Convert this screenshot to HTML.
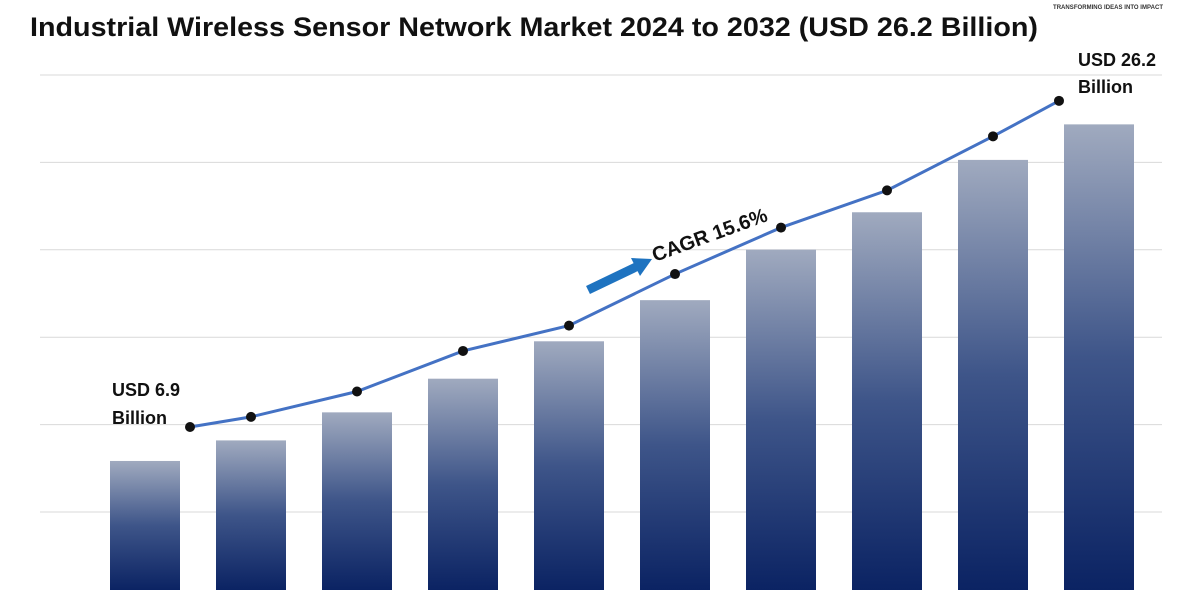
<!DOCTYPE html>
<html><head><meta charset="utf-8"><style>
body{margin:0;background:#fff;}
svg{display:block;font-family:"Liberation Sans",sans-serif;}
</style></head><body>
<svg width="1200" height="600" viewBox="0 0 1200 600">
<defs>
<linearGradient id="bg" x1="0" y1="0" x2="0" y2="1">
<stop offset="0" stop-color="#a0aabf"/><stop offset="0.5" stop-color="#3e5589"/><stop offset="1" stop-color="#0b2363"/>
</linearGradient>
</defs>
<text x="30" y="36" font-size="27" font-weight="bold" fill="#111" textLength="1008" lengthAdjust="spacingAndGlyphs">Industrial Wireless Sensor Network Market 2024 to 2032 (USD 26.2 Billion)</text>
<text x="1040" y="-2" font-size="14" font-weight="bold" fill="#1aa3e0">INFINITE</text>
<text x="1053" y="9" font-size="6" font-weight="bold" fill="#333" textLength="110">TRANSFORMING IDEAS INTO IMPACT</text>
<g id="grid"></g>
<g id="bars"></g>
<g id="line"></g>
<text x="112" y="396" font-size="18" font-weight="bold" fill="#111">USD 6.9</text>
<text x="112" y="424" font-size="18" font-weight="bold" fill="#111">Billion</text>
<text x="1078" y="66" font-size="18" font-weight="bold" fill="#111">USD 26.2</text>
<text x="1078" y="93" font-size="18" font-weight="bold" fill="#111">Billion</text>
<g>
<line x1="588" y1="290" x2="638" y2="266" stroke="#1e73c0" stroke-width="9"/>
<polygon points="652,259 631,258 640,276" fill="#1e73c0"/>
</g>
<text x="655" y="262" font-size="20" font-weight="bold" fill="#111" transform="rotate(-20 655 262)">CAGR 15.6%</text>
</svg>
<script>
const categories=['2023','2024','2025','2026','2027','2028','2029','2030','2031','2032'];
const barValues=[6.9,8.0,9.5,11.3,13.3,15.5,18.2,20.2,23.0,24.9];
const lineValues=[6.9,7.5,9.0,11.4,12.9,15.95,18.7,20.9,24.1,26.2];
const gridTicks=[0,1,2,3,4,5];
const NS='http://www.w3.org/2000/svg';
const base=590, barScale=18.7;
const yBar=v=>base-v*barScale;
const xBand=i=>110+i*106;
const bw=70;
const yLine=v=>427-(v-6.9)*16.9;
const xLine=i=>i===0?xBand(0)+80:(i===categories.length-1?xBand(i)-5:xBand(i)+bw/2);
function mk(t,a,p){const e=document.createElementNS(NS,t);for(const k in a)e.setAttribute(k,a[k]);p.appendChild(e);return e;}
const g=document.getElementById('grid');
gridTicks.forEach(t=>{const y=75+t*87.4;
const l=mk('line',{x1:40,x2:1162,y1:y,y2:y,stroke:'#d9d9d9','stroke-width':1},g);

});
const b=document.getElementById('bars');
barValues.forEach((v,i)=>{const r=mk('rect',{x:xBand(i),y:yBar(v),width:bw,height:base-yBar(v),fill:'url(#bg)'},b);

});
const lg=document.getElementById('line');
const pts=lineValues.map((v,i)=>xLine(i)+','+yLine(v)).join(' ');
const pl=mk('polyline',{points:pts,fill:'none',stroke:'#4472c4','stroke-width':3},lg);


lineValues.forEach((v,i)=>{const c=mk('circle',{cx:xLine(i),cy:yLine(v),r:5,fill:'#111'},lg);

});
</script>
</body></html>
